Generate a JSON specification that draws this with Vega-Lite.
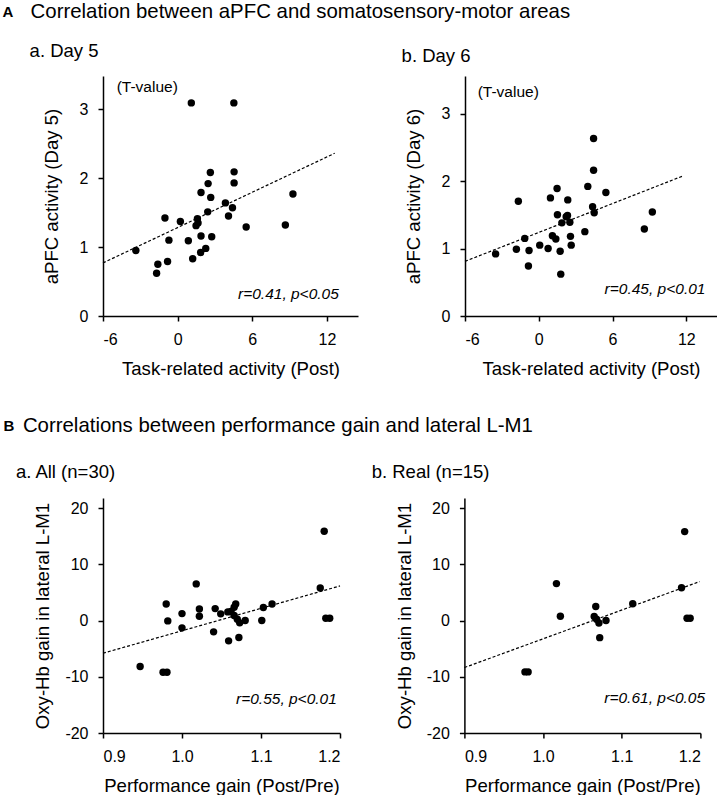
{
  "$schema": "https://vega.github.io/schema/vega-lite/v6.json",
  "padding": {"left": 2, "top": 2, "right": 0, "bottom": 0},
  "background": "white",
  "datasets": {
    "day5": [
      {"x": -3.36, "y": 0.95}, {"x": -1.69, "y": 0.62}, {"x": -1.59, "y": 0.75}, {"x": -1.02, "y": 1.42},
      {"x": -0.81, "y": 0.79}, {"x": -0.7, "y": 1.1}, {"x": 0.22, "y": 1.37}, {"x": 0.86, "y": 1.09},
      {"x": 1.1, "y": 3.09}, {"x": 1.21, "y": 0.83}, {"x": 1.48, "y": 1.31}, {"x": 1.59, "y": 1.41},
      {"x": 1.64, "y": 1.35}, {"x": 1.88, "y": 1.16}, {"x": 1.88, "y": 1.79}, {"x": 1.85, "y": 0.92},
      {"x": 2.26, "y": 0.98}, {"x": 2.42, "y": 1.51}, {"x": 2.45, "y": 1.92}, {"x": 2.63, "y": 2.08},
      {"x": 2.66, "y": 1.72}, {"x": 2.74, "y": 1.15}, {"x": 3.84, "y": 1.64}, {"x": 4.09, "y": 1.45},
      {"x": 4.41, "y": 1.57}, {"x": 4.52, "y": 3.09}, {"x": 4.54, "y": 2.09}, {"x": 4.54, "y": 1.93},
      {"x": 5.51, "y": 1.29}, {"x": 8.66, "y": 1.32}, {"x": 9.27, "y": 1.77}
    ],
    "fit5": [{"x": -6, "y": 0.77}, {"x": 12.63, "y": 2.36}],
    "day6": [
      {"x": -3.51, "y": 0.92}, {"x": -1.82, "y": 0.99}, {"x": -1.66, "y": 1.7}, {"x": -1.14, "y": 1.15},
      {"x": -0.84, "y": 0.74}, {"x": -0.79, "y": 0.97}, {"x": 0.08, "y": 1.05}, {"x": 0.76, "y": 1.0},
      {"x": 0.95, "y": 1.75}, {"x": 1.11, "y": 1.19}, {"x": 1.39, "y": 1.14}, {"x": 1.49, "y": 1.89},
      {"x": 1.52, "y": 1.5}, {"x": 1.74, "y": 0.96}, {"x": 1.79, "y": 0.62}, {"x": 1.88, "y": 1.38},
      {"x": 2.23, "y": 1.47}, {"x": 2.36, "y": 1.72}, {"x": 2.34, "y": 1.49}, {"x": 2.53, "y": 1.39},
      {"x": 2.58, "y": 1.18}, {"x": 2.64, "y": 1.05}, {"x": 3.75, "y": 1.25}, {"x": 3.99, "y": 1.92},
      {"x": 4.38, "y": 1.62}, {"x": 4.46, "y": 2.63}, {"x": 4.46, "y": 2.16}, {"x": 4.51, "y": 1.53},
      {"x": 5.46, "y": 1.83}, {"x": 8.59, "y": 1.29}, {"x": 9.24, "y": 1.54}
    ],
    "fit6": [{"x": -6, "y": 0.81}, {"x": 11.8, "y": 2.08}],
    "all": [
      {"x": 0.947, "y": -8.18}, {"x": 0.976, "y": -9.19}, {"x": 0.981, "y": -9.19}, {"x": 0.98, "y": 2.96},
      {"x": 0.982, "y": -0.06}, {"x": 1.0, "y": 1.24}, {"x": 1.0, "y": -1.3}, {"x": 1.018, "y": 6.52},
      {"x": 1.022, "y": 2.07}, {"x": 1.022, "y": 0.77}, {"x": 1.04, "y": -2.01}, {"x": 1.042, "y": 2.13},
      {"x": 1.049, "y": 1.19}, {"x": 1.058, "y": 1.54}, {"x": 1.059, "y": -3.61}, {"x": 1.062, "y": 1.6},
      {"x": 1.066, "y": 2.37}, {"x": 1.068, "y": 2.96}, {"x": 1.066, "y": 0.89}, {"x": 1.07, "y": 0.24},
      {"x": 1.073, "y": -0.41}, {"x": 1.072, "y": -3.02}, {"x": 1.08, "y": 0.0}, {"x": 1.101, "y": 0.0},
      {"x": 1.103, "y": 2.31}, {"x": 1.114, "y": 2.96}, {"x": 1.175, "y": 5.81}, {"x": 1.18, "y": 15.88},
      {"x": 1.182, "y": 0.41}, {"x": 1.187, "y": 0.41}
    ],
    "fitall": [{"x": 0.9, "y": -5.81}, {"x": 1.2, "y": 6.16}],
    "real": [
      {"x": 0.977, "y": -9.13}, {"x": 0.981, "y": -9.13}, {"x": 1.017, "y": 6.57}, {"x": 1.022, "y": 0.78},
      {"x": 1.067, "y": 2.51}, {"x": 1.065, "y": 0.72}, {"x": 1.068, "y": 0.24}, {"x": 1.071, "y": -0.42},
      {"x": 1.072, "y": -3.04}, {"x": 1.08, "y": 0.0}, {"x": 1.114, "y": 2.99}, {"x": 1.176, "y": 5.85},
      {"x": 1.18, "y": 15.82}, {"x": 1.183, "y": 0.42}, {"x": 1.187, "y": 0.42}
    ],
    "fitreal": [{"x": 0.9, "y": -8.36}, {"x": 1.199, "y": 6.93}]
  },
  "config": {
    "font": "Liberation Sans",
    "view": {"stroke": null},
    "axis": {
      "grid": false, "domainColor": "black", "domainWidth": 1.5, "tickColor": "black", "tickWidth": 1.5,
      "tickSize": 5, "labelFontSize": 16, "labelColor": "black", "labelPadding": 10,
      "titleFontSize": 18.6, "titleFontWeight": "normal", "titleColor": "black",
      "labelExpr": "replace(datum.label, '\u2212', '-')"
    },
    "axisX": {"titlePadding": 12},
    "title": {"anchor": "start", "fontWeight": "normal", "fontSize": 18.5, "color": "black"},
    "text": {"color": "black", "fontSize": 15.5}
  },
  "concat": [
    {
      "title": {"text": "A", "orient": "left", "angle": 0, "anchor": "end", "baseline": "top", "align": "left", "fontWeight": "bold", "fontSize": 15, "offset": 16.2, "dy": 3},
      "vconcat": [
        {
          "title": {"text": "Correlation between aPFC and somatosensory-motor areas", "fontSize": 20.4, "offset": 19.5, "dx": 1},
          "spacing": 43,
          "hconcat": [
            {
              "width": 255, "height": 240,
              "title": {"text": "a. Day 5", "offset": 15.5, "dx": -13},
              "layer": [
                {"data": {"name": "day5"}, "mark": {"type": "circle", "size": 55, "color": "black", "opacity": 1},
                 "encoding": {
                   "x": {"field": "x", "type": "quantitative", "scale": {"domain": [-6, 14.5], "nice": false, "zero": false}, "axis": {"values": [-6, 0, 6, 12], "title": "Task-related activity (Post)"}},
                   "y": {"field": "y", "type": "quantitative", "scale": {"domain": [0, 3.48], "nice": false}, "axis": {"values": [0, 1, 2, 3], "format": "d", "titlePadding": 17.5, "title": "aPFC activity (Day 5)"}}
                 }},
                {"data": {"name": "fit5"}, "mark": {"type": "line", "strokeDash": [3, 2], "strokeWidth": 1.2, "color": "black"},
                 "encoding": {"x": {"field": "x", "type": "quantitative"}, "y": {"field": "y", "type": "quantitative"}}},
                {"data": {"values": [{"label": "(T-value)"}]}, "mark": {"type": "text", "align": "left", "baseline": "middle"},
                 "encoding": {"x": {"datum": -4.9}, "y": {"datum": 3.32}, "text": {"field": "label"}}},
                {"data": {"values": [{"label": "r=0.41, p<0.05"}]}, "mark": {"type": "text", "align": "right", "baseline": "middle", "fontStyle": "italic"},
                 "encoding": {"x": {"datum": 12.96}, "y": {"datum": 0.32}, "text": {"field": "label"}}}
              ]
            },
            {
              "width": 252, "height": 240,
              "title": {"text": "b. Day 6", "offset": 10.5, "dx": -3},
              "layer": [
                {"data": {"name": "day6"}, "mark": {"type": "circle", "size": 55, "color": "black", "opacity": 1},
                 "encoding": {
                   "x": {"field": "x", "type": "quantitative", "scale": {"domain": [-6, 14.5], "nice": false, "zero": false}, "axis": {"values": [-6, 0, 6, 12], "title": "Task-related activity (Post)"}},
                   "y": {"field": "y", "type": "quantitative", "scale": {"domain": [0, 3.556], "nice": false}, "axis": {"values": [0, 1, 2, 3], "format": "d", "titlePadding": 17.5, "title": "aPFC activity (Day 6)"}}
                 }},
                {"data": {"name": "fit6"}, "mark": {"type": "line", "strokeDash": [3, 2], "strokeWidth": 1.2, "color": "black"},
                 "encoding": {"x": {"field": "x", "type": "quantitative"}, "y": {"field": "y", "type": "quantitative"}}},
                {"data": {"values": [{"label": "(T-value)"}]}, "mark": {"type": "text", "align": "left", "baseline": "middle"},
                 "encoding": {"x": {"datum": -4.97}, "y": {"datum": 3.32}, "text": {"field": "label"}}},
                {"data": {"values": [{"label": "r=0.45, p<0.01"}]}, "mark": {"type": "text", "align": "right", "baseline": "middle", "fontStyle": "italic"},
                 "encoding": {"x": {"datum": 13.56}, "y": {"datum": 0.4}, "text": {"field": "label"}}}
              ]
            }
          ]
        }
      ]
    },
    {
      "title": {"text": "B", "orient": "left", "angle": 0, "anchor": "end", "baseline": "top", "align": "left", "fontWeight": "bold", "fontSize": 15, "offset": 1.5, "dy": 3},
      "vconcat": [
        {
          "title": {"text": "Correlations between performance gain and lateral L-M1", "fontSize": 20.4, "offset": 26.5, "dx": 7},
          "spacing": 28.4,
          "hconcat": [
            {
              "width": 237, "height": 235,
              "title": {"text": "a. All (n=30)", "offset": 16.8, "dx": -18},
              "layer": [
                {"data": {"name": "all"}, "mark": {"type": "circle", "size": 55, "color": "black", "opacity": 1},
                 "encoding": {
                   "x": {"field": "x", "type": "quantitative", "scale": {"domain": [0.9, 1.2], "nice": false, "zero": false}, "axis": {"values": [0.9, 1.0, 1.1, 1.2], "format": ".1f", "title": "Performance gain (Post/Pre)"}},
                   "y": {"field": "y", "type": "quantitative", "scale": {"domain": [-20, 21.8], "nice": false}, "axis": {"values": [-20, -10, 0, 10, 20], "format": "d", "titlePadding": 12, "title": "Oxy-Hb gain in lateral L-M1"}}
                 }},
                {"data": {"name": "fitall"}, "mark": {"type": "line", "strokeDash": [3, 2], "strokeWidth": 1.2, "color": "black"},
                 "encoding": {"x": {"field": "x", "type": "quantitative"}, "y": {"field": "y", "type": "quantitative"}}},
                {"data": {"values": [{"label": "r=0.55, p<0.01"}]}, "mark": {"type": "text", "align": "right", "baseline": "middle", "fontStyle": "italic"},
                 "encoding": {"x": {"datum": 1.196}, "y": {"datum": -13.9}, "text": {"field": "label"}}}
              ]
            },
            {
              "width": 236, "height": 235,
              "title": {"text": "b. Real (n=15)", "offset": 16.8, "dx": -23.6},
              "layer": [
                {"data": {"name": "real"}, "mark": {"type": "circle", "size": 55, "color": "black", "opacity": 1},
                 "encoding": {
                   "x": {"field": "x", "type": "quantitative", "scale": {"domain": [0.9, 1.2], "nice": false, "zero": false}, "axis": {"values": [0.9, 1.0, 1.1, 1.2], "format": ".1f", "title": "Performance gain (Post/Pre)"}},
                   "y": {"field": "y", "type": "quantitative", "scale": {"domain": [-20, 21.8], "nice": false}, "axis": {"values": [-20, -10, 0, 10, 20], "format": "d", "titlePadding": 12, "title": "Oxy-Hb gain in lateral L-M1"}}
                 }},
                {"data": {"name": "fitreal"}, "mark": {"type": "line", "strokeDash": [3, 2], "strokeWidth": 1.2, "color": "black"},
                 "encoding": {"x": {"field": "x", "type": "quantitative"}, "y": {"field": "y", "type": "quantitative"}}},
                {"data": {"values": [{"label": "r=0.61, p<0.05"}]}, "mark": {"type": "text", "align": "right", "baseline": "middle", "fontStyle": "italic"},
                 "encoding": {"x": {"datum": 1.206}, "y": {"datum": -13.85}, "text": {"field": "label"}}}
              ]
            }
          ]
        }
      ]
    }
  ],
  "columns": 1,
  "align": "none",
  "spacing": 37
}
